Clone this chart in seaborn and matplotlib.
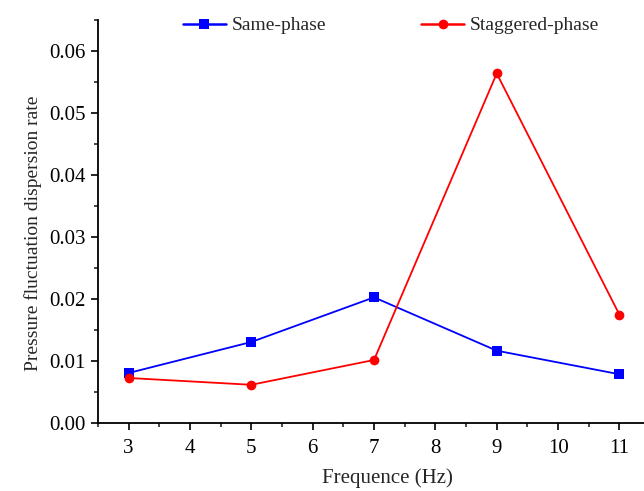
import numpy as np
import pandas as pd
import matplotlib
matplotlib.use("Agg")
import matplotlib.pyplot as plt
import seaborn as sns
from matplotlib.ticker import MultipleLocator

# Data
freq = [3, 5, 7, 9, 11]
same_phase = [0.0081, 0.0131, 0.0203, 0.0117, 0.0079]
staggered_phase = [0.0073, 0.0062, 0.0102, 0.0564, 0.0175]

df = pd.DataFrame({
    'Frequence': freq * 2,
    'Rate': same_phase + staggered_phase,
    'Series': ['Same-phase'] * len(freq) + ['Staggered-phase'] * len(freq),
})

sns.set_style("ticks")
plt.rcParams['font.family'] = ['Liberation Serif', 'DejaVu Serif']

fig = plt.figure(figsize=(6.44, 4.91), dpi=100)
ax = fig.add_axes([0.152, 0.138, 0.848, 0.821])

sns.lineplot(data=df, x='Frequence', y='Rate', hue='Series', style='Series',
             palette={'Same-phase': '#0000ff', 'Staggered-phase': '#ff0000'},
             markers={'Same-phase': 's', 'Staggered-phase': 'o'},
             dashes=False, markersize=7, linewidth=1.3, markeredgewidth=0,
             ax=ax)

ax.set_xlim(2.5, 11.4)
ax.set_ylim(0, 0.065)
ax.xaxis.set_major_locator(MultipleLocator(1))
ax.xaxis.set_minor_locator(MultipleLocator(0.5))
ax.yaxis.set_major_locator(MultipleLocator(0.01))
ax.yaxis.set_minor_locator(MultipleLocator(0.005))
ax.set_xticks(range(3, 12))
ax.set_yticks(np.arange(0, 0.061, 0.01))
ax.set_yticklabels([f'{v:.2f}' for v in np.arange(0, 0.061, 0.01)])
ax.tick_params(axis='both', which='major', direction='out', length=5, width=1.2,
               labelsize=15, colors='black')
ax.tick_params(axis='x', which='major', pad=6)
ax.tick_params(axis='both', which='minor', direction='out', length=3, width=1.2)

for s in ['top', 'right']:
    ax.spines[s].set_visible(False)
for s in ['left', 'bottom']:
    ax.spines[s].set_linewidth(1.3)
    ax.spines[s].set_color('black')

ax.set_xlabel('Frequence (Hz)', fontsize=15)
ax.set_ylabel('Pressure fluctuation dispersion rate', fontsize=14)
ax.xaxis.set_label_coords(0.531, -0.112)
ax.yaxis.set_label_coords(-0.103, 0.470)

handles, labels = ax.get_legend_handles_labels()
for h in handles:
    h.set_linewidth(1.8)
ax.legend(handles, labels, ncol=2, frameon=False, fontsize=14,
          loc='center', bbox_to_anchor=(0.607, 0.948), bbox_transform=fig.transFigure,
          columnspacing=4.9, handlelength=2.2, handletextpad=0.3)

fig.savefig('out.png', dpi=100)
